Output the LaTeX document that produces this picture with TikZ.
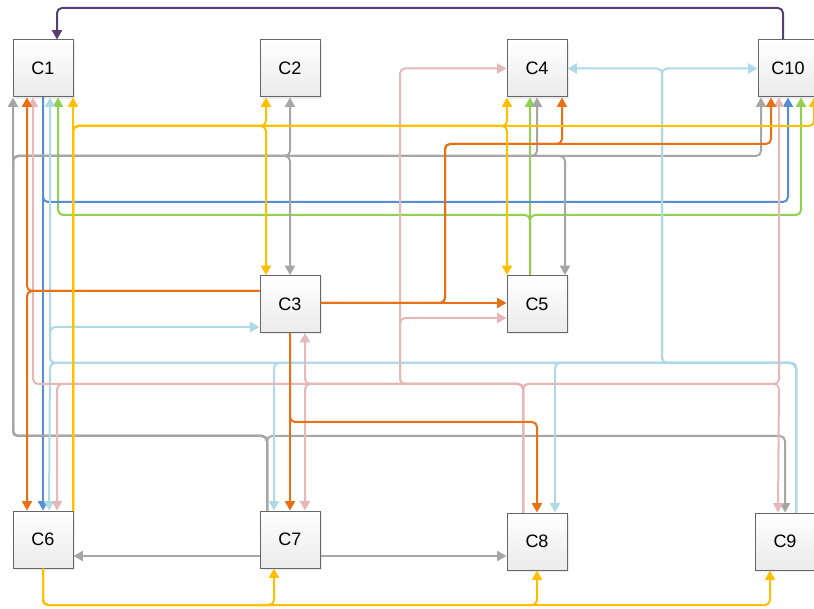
\documentclass[tikz,border=0pt]{standalone}
\usepackage{fontspec}
\setmainfont{Liberation Sans}
\usetikzlibrary{arrows.meta,calc,shadows}
\definecolor{cpurple}{HTML}{553F75}
\definecolor{cyellow}{HTML}{FFC000}
\definecolor{cgray}{HTML}{A6A6A6}
\definecolor{corange}{HTML}{EA7015}
\definecolor{cpink}{HTML}{E6B9B8}
\definecolor{cblue}{HTML}{558ED5}
\definecolor{cgreen}{HTML}{92D050}
\definecolor{clblue}{HTML}{ADDAE6}
\definecolor{cborder}{HTML}{666666}
\tikzset{
  box/.style={draw=cborder, line width=0.75pt, top color=white, bottom color=black!8,
    minimum width=45pt, minimum height=42.75pt, inner sep=0pt,
    font=\fontsize{13.5}{15}\selectfont,
    drop shadow={shadow xshift=1.5pt, shadow yshift=-1.5pt, opacity=0.15}},
  link/.style={line width=1.5pt, rounded corners=3.75pt, -{Triangle[width=7.5pt,length=7pt]}},
}
\begin{document}
\begin{tikzpicture}[x=0.75pt,y=-0.75pt]
\useasboundingbox (0,0) rectangle (814,609);
% nodes
\node[box] (C1) at (43,68.5) {C1};
\node[box] (C2) at (290,68.5) {C2};
\node[box] (C4) at (537,68.5) {C4};
\node[box] (C10) at (788,68.5) {C10};
\node[box] (C3) at (290,304) {C3};
\node[box] (C5) at (537,304) {C5};
\node[box] (C6) at (43,539.5) {C6};
\node[box] (C7) at (290,539.5) {C7};
\node[box] (C8) at (537,541.5) {C8};
\node[box] (C9) at (785,541.5) {C9};
% purple
\draw[link,cpurple] ($(C10.north)+(-5,0)$) |- (57,8) -- ($(C1.north)+(14,0)$);
% green (C5)
\draw[link,cgreen] ($(C5.north)+(-7,0)$) -- ($(C4.south)+(-7,0)$);
\draw[link,cgreen] ($(C5.north)+(-7,0)$) |- (58,215) -- ($(C1.south)+(15,0)$);
\draw[link,cgreen] ($(C5.north)+(-7,0)$) |- (801,215) -- ($(C10.south)+(13,0)$);
% blue (C1)
\draw[link,cblue] (C1.south) -- (C6.north);
\draw[link,cblue] (C1.south) |- (788,202) -- (C10.south);
% gray (C7)
\draw[link,cgray] ($(C7.north)+(-23,0)$) |- (13,436) -- ($(C1.south)+(-30,0)$);
\draw[link,cgray] ($(C7.north)+(-23,0)$) |- (785,436) -- (C9.north);
\draw[link,cgray] ($(C7.north)+(-23,0)$) |- (13,436) |- (290,156) -- (C2.south);
\draw[link,cgray] ($(C7.north)+(-23,0)$) |- (13,436) |- (290,156) -- (C3.north);
\draw[link,cgray] ($(C7.north)+(-23,0)$) |- (13,436) |- (537,156) -- (C4.south);
\draw[link,cgray] ($(C7.north)+(-23,0)$) |- (13,436) |- (565,156) -- ($(C5.north)+(28,0)$);
\draw[link,cgray] ($(C7.north)+(-23,0)$) |- (13,436) |- (761,156) -- ($(C10.south)+(-27,0)$);
\draw[link,cgray] ($(C7.west)+(0,16.5)$) -- ($(C6.east)+(0,16.5)$);
\draw[link,cgray] ($(C7.east)+(0,16.5)$) -- ($(C8.west)+(0,14.5)$);
% light blue (C9)
\draw[link,clblue] ($(C9.north)+(11,0)$) |- (555,363) -- ($(C8.north)+(18,0)$);
\draw[link,clblue] ($(C9.north)+(11,0)$) |- (274,363) -- ($(C7.north)+(-16,0)$);
\draw[link,clblue] ($(C9.north)+(11,0)$) |- (50,363) -- ($(C6.north)+(6,0)$);
\draw[link,clblue] ($(C9.north)+(11,0)$) |- (50,363) -- ($(C1.south)+(7,0)$);
\draw[link,clblue] ($(C9.north)+(11,0)$) |- (50,363) |- ($(C3.west)+(0,23)$);
\draw[link,clblue] ($(C9.north)+(11,0)$) |- (662,363) |- (C4.east);
\draw[link,clblue] ($(C9.north)+(11,0)$) |- (662,363) |- (C10.west);
% pink (C8)
\draw[link,cpink] ($(C8.north)+(-14,0)$) |- (33,384) -- ($(C1.south)+(-10,0)$);
\draw[link,cpink] ($(C8.north)+(-14,0)$) |- (57,384) -- ($(C6.north)+(14,0)$);
\draw[link,cpink] ($(C8.north)+(-14,0)$) |- (305,384) -- ($(C3.south)+(15,0)$);
\draw[link,cpink] ($(C8.north)+(-14,0)$) |- (305,384) -- ($(C7.north)+(15,0)$);
\draw[link,cpink] ($(C8.north)+(-14,0)$) |- (400,384) |- (C4.west);
\draw[link,cpink] ($(C8.north)+(-14,0)$) |- (400,384) |- ($(C5.west)+(0,14)$);
\draw[link,cpink] ($(C8.north)+(-14,0)$) |- (779,384) -- ($(C10.south)+(-9,0)$);
\draw[link,cpink] ($(C8.north)+(-14,0)$) |- (779,384) -- ($(C9.north)+(-7,0)$);
% orange (C3)
\draw[link,corange] ($(C3.west)+(0,-13)$) -| ($(C1.south)+(-16,0)$);
\draw[link,corange] ($(C3.west)+(0,-13)$) -| ($(C6.north)+(-16,0)$);
\draw[link,corange] ($(C3.east)+(0,-1)$) -- ($(C5.west)+(0,-1)$);
\draw[link,corange] ($(C3.east)+(0,-1)$) -| (445,144) -| ($(C4.south)+(25,0)$);
\draw[link,corange] ($(C3.east)+(0,-1)$) -| (445,144) -| ($(C10.south)+(-17,0)$);
\draw[link,corange] (C3.south) -- (C7.north);
\draw[link,corange] (C3.south) |- (537,422) -- (C8.north);
% yellow (C6)
\draw[link,cyellow] ($(C6.north)+(30,0)$) -- ($(C1.south)+(30,0)$);
\draw[link,cyellow] ($(C6.north)+(30,0)$) |- (266,126) -- ($(C2.south)+(-24,0)$);
\draw[link,cyellow] ($(C6.north)+(30,0)$) |- (266,126) -- ($(C3.north)+(-24,0)$);
\draw[link,cyellow] ($(C6.north)+(30,0)$) |- (507,126) -- ($(C4.south)+(-30,0)$);
\draw[link,cyellow] ($(C6.north)+(30,0)$) |- (507,126) -- ($(C5.north)+(-30,0)$);
\draw[link,cyellow] ($(C6.north)+(30,0)$) |- (814,126) -- ($(C10.south)+(26,0)$);
\draw[link,cyellow] (C6.south) |- (274,605) -- ($(C7.south)+(-16,0)$);
\draw[link,cyellow] (C6.south) |- (537,605) -- (C8.south);
\draw[link,cyellow] (C6.south) |- (770,605) -- ($(C9.south)+(-15,0)$);
\end{tikzpicture}
\end{document}
